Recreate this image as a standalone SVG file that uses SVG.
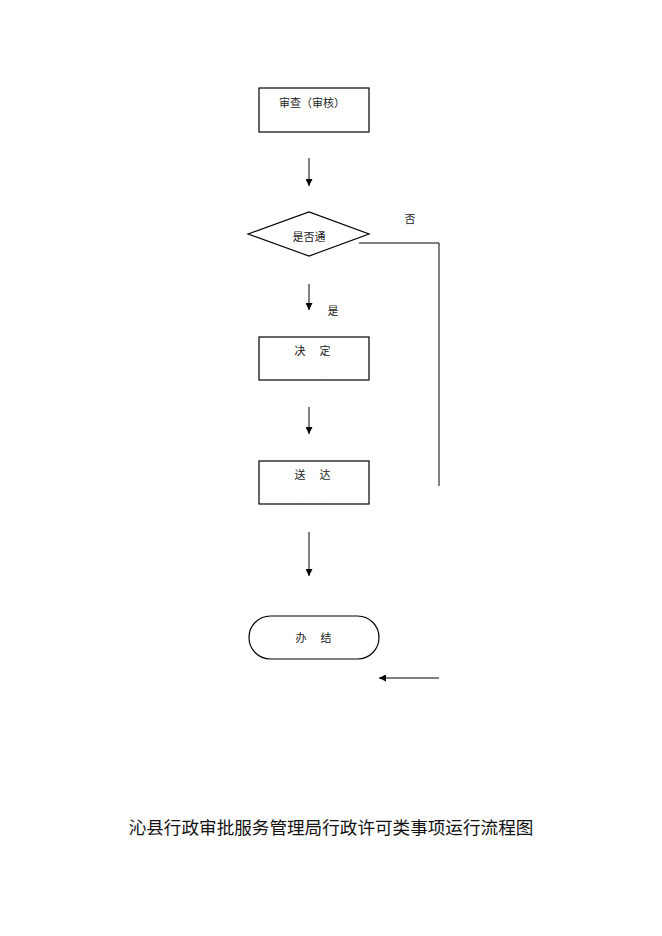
<svg xmlns="http://www.w3.org/2000/svg" width="662" height="936" viewBox="0 0 662 936">
<style>
.box{fill:#fff;stroke:#000;stroke-width:1.2}
.ln{fill:none;stroke:#000;stroke-width:1}
.t{font-family:"Noto Sans CJK SC","Liberation Serif",serif;font-size:11px;fill:#222}
.dot{font-family:"Liberation Sans",sans-serif;font-size:5px;fill:#bbb}
.title{font-family:"Noto Sans CJK SC","Liberation Serif",serif;font-size:17.6px;fill:#111}
</style>
<defs>
<marker id="ah" viewBox="0 0 10 10" refX="10" refY="5" markerWidth="7" markerHeight="7" markerUnits="userSpaceOnUse" orient="auto">
<path d="M0,0 L10,5 L0,10 z" fill="#000"/>
</marker>
</defs>
<rect width="662" height="936" fill="#fff"/>
<g id="review">
<rect class="box" x="259" y="88" width="110" height="44"/>
<text class="t" x="312" y="107" text-anchor="middle">审查（审核）</text>
</g>
<g id="decision">
<polygon class="box" points="248,234 309,212 369,234 309,256"/>
<text class="t" x="309" y="241" text-anchor="middle">是否通</text>
</g>
<g id="decide">
<rect class="box" x="259" y="337" width="110" height="43"/>
<text class="t" x="300" y="355" text-anchor="middle">决</text>
<text class="t" x="325" y="355" text-anchor="middle">定</text>
<text class="dot" x="300" y="378" text-anchor="middle">.</text>
<text class="dot" x="323" y="378" text-anchor="middle">..</text>
</g>
<g id="deliver">
<rect class="box" x="259" y="461" width="110" height="43"/>
<text class="t" x="300" y="479" text-anchor="middle">送</text>
<text class="t" x="325" y="479" text-anchor="middle">达</text>
<text class="dot" x="300" y="502" text-anchor="middle">.</text>
<text class="dot" x="323" y="502" text-anchor="middle">..</text>
</g>
<g id="finish">
<rect class="box" x="249" y="616" width="130" height="43" rx="21.5" ry="21.5"/>
<text class="t" x="301" y="642" text-anchor="middle">办</text>
<text class="t" x="326" y="642" text-anchor="middle">结</text>
</g>
<g id="connectors">
<line class="ln" x1="309" y1="158" x2="309" y2="186" marker-end="url(#ah)"/>
<line class="ln" x1="309" y1="284" x2="309" y2="310" marker-end="url(#ah)"/>
<line class="ln" x1="309" y1="407" x2="309" y2="434" marker-end="url(#ah)"/>
<line class="ln" x1="309" y1="532" x2="309" y2="576" marker-end="url(#ah)"/>
<polyline class="ln" points="359,243 439,243 439,486"/>
<line class="ln" x1="439" y1="678" x2="379" y2="678" marker-end="url(#ah)"/>
<text class="t" x="410" y="223" text-anchor="middle">否</text>
<text class="t" x="333" y="315" text-anchor="middle">是</text>
</g>
<text class="title" x="331" y="834" text-anchor="middle">沁县行政审批服务管理局行政许可类事项运行流程图</text>
</svg>
